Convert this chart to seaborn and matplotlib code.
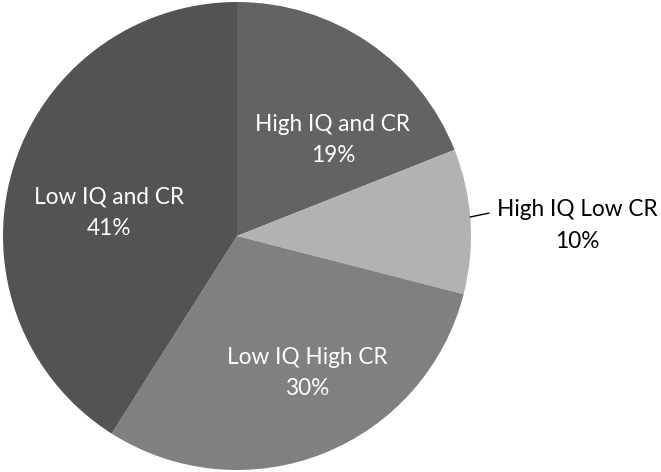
import matplotlib
matplotlib.use('Agg')
import matplotlib.pyplot as plt
import seaborn as sns

categories = ['High IQ and CR', 'High IQ Low CR', 'Low IQ High CR', 'Low IQ and CR']
shares = [19, 10, 30, 41]
colors = ['#636363', '#b2b2b2', '#808080', '#535353']
text_colors = ['white', 'black', 'white', 'white']
# label anchor points in pie coordinates (radius 1)
label_pos = [(0.41, 0.41), (1.454, 0.045), (0.30, -0.585), (-0.547, 0.098)]

sns.set_style('white')
plt.rcParams['font.family'] = ['Lato', 'DejaVu Sans']

fig = plt.figure(figsize=(6.61, 4.72), dpi=100)
ax = fig.add_axes([3 / 661, 2 / 472, 468 / 661, 468 / 472])

wedges, _ = ax.pie(shares, colors=colors, startangle=90, counterclock=False,
                   radius=1, wedgeprops=dict(linewidth=0))
ax.set_xlim(-1, 1)
ax.set_ylim(-1, 1)
ax.axis('off')

for name, val, pos, tc in zip(categories, shares, label_pos, text_colors):
    ax.text(pos[0], pos[1], f'{name}\n{val}%', ha='center', va='center',
            color=tc, fontsize=16.3, linespacing=1.6, clip_on=False)

# leader line for the outside label
ax.plot([0.996, 1.077], [0.081, 0.098], color='black', lw=1, clip_on=False)

fig.savefig('out.png', dpi=100)
